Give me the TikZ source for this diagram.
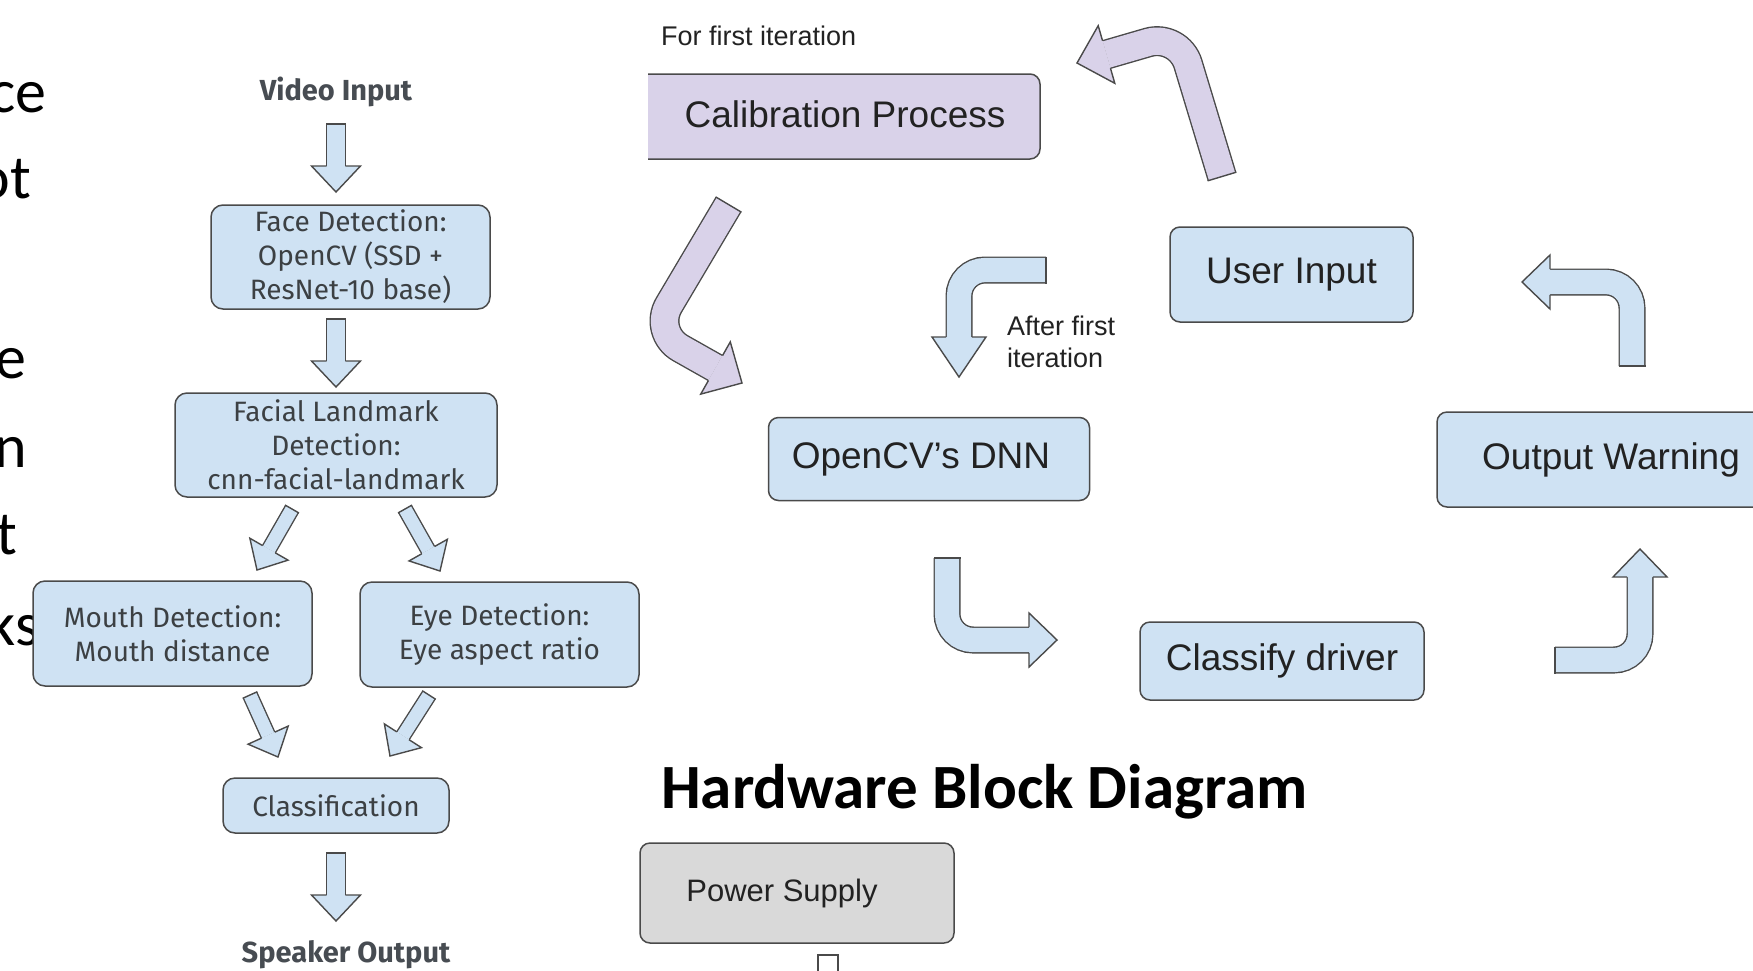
\documentclass[tikz,border=0pt]{standalone}
\usepackage{fontspec}
\setmainfont{Liberation Sans}
\newfontfamily\flowfont{Fira Sans}
\newfontfamily\slidefont{Carlito}
\usetikzlibrary{calc}
\definecolor{lblue}{HTML}{CFE2F3}
\definecolor{lpurple}{HTML}{D9D2E9}
\definecolor{lgray}{HTML}{D9D9D9}
\definecolor{outl}{HTML}{4A4A4A}
\definecolor{ftext}{HTML}{3C4043}
\definecolor{ltext}{HTML}{474C52}
\definecolor{rtext}{HTML}{222222}
\newcommand\fsz[2]{\fontsize{#1pt}{#2pt}\selectfont}
\tikzset{
  lbox/.style={draw=outl, line width=1.5pt, fill=lblue, rounded corners=12pt, align=center,
    text=ftext, font=\flowfont\fsz{28}{34}, inner sep=0pt},
  rbox/.style={draw=outl, line width=1.5pt, rounded corners=10pt, text=rtext,
    font=\fsz{37}{44}, inner sep=0pt},
  shaft/.style n args={3}{draw=outl, line width=1.4pt, double=#1, double distance=#2, rounded corners=#3},
  frag/.style={anchor=base east, font=\slidefont\fsz{62}{70}, text=black, inner sep=0pt},
  flowlbl/.style={font=\flowfont\bfseries\fsz{29}{32}, text=ltext, inner sep=0pt},
  rlbl/.style={font=\fsz{27}{32}, text=rtext, inner sep=0pt, align=left},
}
% straight block arrow: name, tail, tip, fill
\newcommand\sarrow[4]{%
  \coordinate (#1t) at #2;
  \coordinate (#1p) at #3;
  \coordinate (#1b) at ($(#1p)!\aHL!(#1t)$);
  \draw[shaft={#4}{\aDD}{0pt}] (#1t) -- (#1b);
  \draw[outl, line width=1.4pt] ($(#1t)!\aST!90:(#1b)$) -- ($(#1t)!\aST!-90:(#1b)$);
  \fill[#4] ($(#1b)!\aHW!90:(#1p)$) -- (#1p) -- ($(#1b)!\aHW!-90:(#1p)$) -- cycle;
  \draw[outl, line width=1.4pt, line join=miter] ($(#1b)!\aSH!90:(#1p)$) -- ($(#1b)!\aHW!90:(#1p)$)
    -- (#1p) -- ($(#1b)!\aHW!-90:(#1p)$) -- ($(#1b)!\aSH!-90:(#1p)$);
}
% bent block arrow: name, tail, corner, head base, tip, fill
\newcommand\carrow[6]{%
  \coordinate (#1t) at #2;
  \coordinate (#1c) at #3;
  \coordinate (#1b) at #4;
  \coordinate (#1p) at #5;
  \draw[shaft={#6}{\aDD}{\aRC}] (#1t) -- (#1c) -- (#1b);
  \draw[outl, line width=1.4pt] ($(#1t)!\aST!90:(#1c)$) -- ($(#1t)!\aST!-90:(#1c)$);
  \fill[#6] ($(#1b)!\aHW!90:(#1p)$) -- (#1p) -- ($(#1b)!\aHW!-90:(#1p)$) -- cycle;
  \draw[outl, line width=1.4pt, line join=miter] ($(#1b)!\aSH!90:(#1p)$) -- ($(#1b)!\aHW!90:(#1p)$)
    -- (#1p) -- ($(#1b)!\aHW!-90:(#1p)$) -- ($(#1b)!\aSH!-90:(#1p)$);
}
\begin{document}
\begin{tikzpicture}[x=1pt,y=-1pt]
\useasboundingbox (0,0) rectangle (1753,970);
\fill[white] (0,0) rectangle (1753,970);

% cut-off slide text on the far left
\node[frag] (f1) at (47,112) {ce};
\node[frag] (f2) at (31,198) {ot};
\node[frag] (f3) at (27,378) {e};
\node[frag] (f4) at (27,467) {n};
\node[frag] (f5) at (17,554) {t};
\node[frag] (f6) at (40,645) {ks};

% ---------- left flowchart ----------
\node[flowlbl] (vin) at (336,92) {Video Input};
\node[lbox, minimum width=279pt, minimum height=104pt] (face) at (350.5,257)
  {Face Detection:\\OpenCV (SSD +\\ResNet-10 base)};
\node[lbox, minimum width=322pt, minimum height=104pt] (land) at (336,445)
  {Facial Landmark\\Detection:\\cnn-facial-landmark};
\node[lbox, minimum width=279pt, minimum height=105pt] (mouth) at (172.5,633.5)
  {Mouth Detection:\\Mouth distance};
\node[lbox, minimum width=279pt, minimum height=105pt] (eye) at (499.5,634.5)
  {Eye Detection:\\Eye aspect ratio};
\node[lbox, minimum width=226pt, minimum height=55pt] (cls) at (336,805.5) {Classification};
\node[flowlbl] (spk) at (346,955) {Speaker Output};

\def\aDD{17.2pt}\def\aSH{9.3pt}\def\aST{10pt}\def\aHW{24.5pt}\def\aHL{26pt}
\sarrow{v1}{(336,124)}{(336,192)}{lblue}
\sarrow{v2}{(336,319)}{(336,387)}{lblue}
\sarrow{v3}{(336,853)}{(336,921)}{lblue}
\def\aDD{13.2pt}\def\aSH{7.3pt}\def\aST{8pt}\def\aHW{22pt}\def\aHL{24pt}
\sarrow{d1}{(292,509)}{(257,570)}{lblue}
\sarrow{d2}{(405,509)}{(440,571)}{lblue}
\sarrow{d3}{(250,695)}{(278,757)}{lblue}
\sarrow{d4}{(429,695)}{(390,756)}{lblue}

% ---------- right cycle diagram ----------
\node[rlbl, anchor=base west] (first) at (661,45) {For first iteration};
\begin{scope}
  \clip (648,0) rectangle (1753,970);
  \node[rbox, fill=lpurple, minimum width=440pt, minimum height=85pt] (calib) at (820,116.5)
    {\hspace*{50pt}\raisebox{4pt}{Calibration Process}};
\end{scope}
\node[rbox, fill=lblue, minimum width=321pt, minimum height=83pt] (dnn) at (929,459) {OpenCV's DNN\hspace*{16pt}};
\node[rbox, fill=lblue, minimum width=243pt, minimum height=95pt] (user) at (1291.5,274.5) {User Input};
\node[rbox, fill=lblue, minimum width=348pt, minimum height=95pt] (warn) at (1611,459.5) {Output Warning};
\node[rbox, fill=lblue, minimum width=284pt, minimum height=78pt] (classify) at (1282,661) {Classify driver};
\node[rlbl, anchor=north west] (after) at (1007,316) {After first\\iteration};

% purple bent arrows
\def\aDD{27.2pt}\def\aSH{14.3pt}\def\aST{15pt}\def\aHW{30pt}\def\aRC{32pt}
\carrow{pa}{(728.5,204.5)}{(652.6,332.5)}{(715.5,368)}{(742,383)}{lpurple}
\carrow{pb}{(1222,176.5)}{(1178.8,33.5)}{(1106.5,54.5)}{(1077,63)}{lpurple}
% light blue bent arrows
\def\aDD{24.2pt}\def\aSH{12.8pt}\def\aST{13.5pt}\def\aHW{27pt}\def\aRC{26pt}
\carrow{bc}{(1046,270)}{(959,270)}{(959,337)}{(959,377)}{lblue}
\carrow{bd}{(947,558)}{(947,640)}{(1029,640)}{(1057,640)}{lblue}
\carrow{be}{(1555,660)}{(1640,660)}{(1640,577)}{(1640,549)}{lblue}
\carrow{bf}{(1632,366)}{(1632,282)}{(1550,282)}{(1522,282)}{lblue}

% ---------- hardware block diagram ----------
\node[anchor=base west, font=\slidefont\bfseries\fsz{63}{70}, inner sep=0pt] (title) at (661,808)
  {Hardware Block Diagram};
\node[rbox, fill=lgray, minimum width=314pt, minimum height=100pt, font=\fsz{31}{36}] (power) at (797,893)
  {\raisebox{-3pt}{Power Supply}\hspace*{30pt}};
\draw[outl, line width=1.4pt, fill=white] (818,955) rectangle (838,990);
\end{tikzpicture}
\end{document}
